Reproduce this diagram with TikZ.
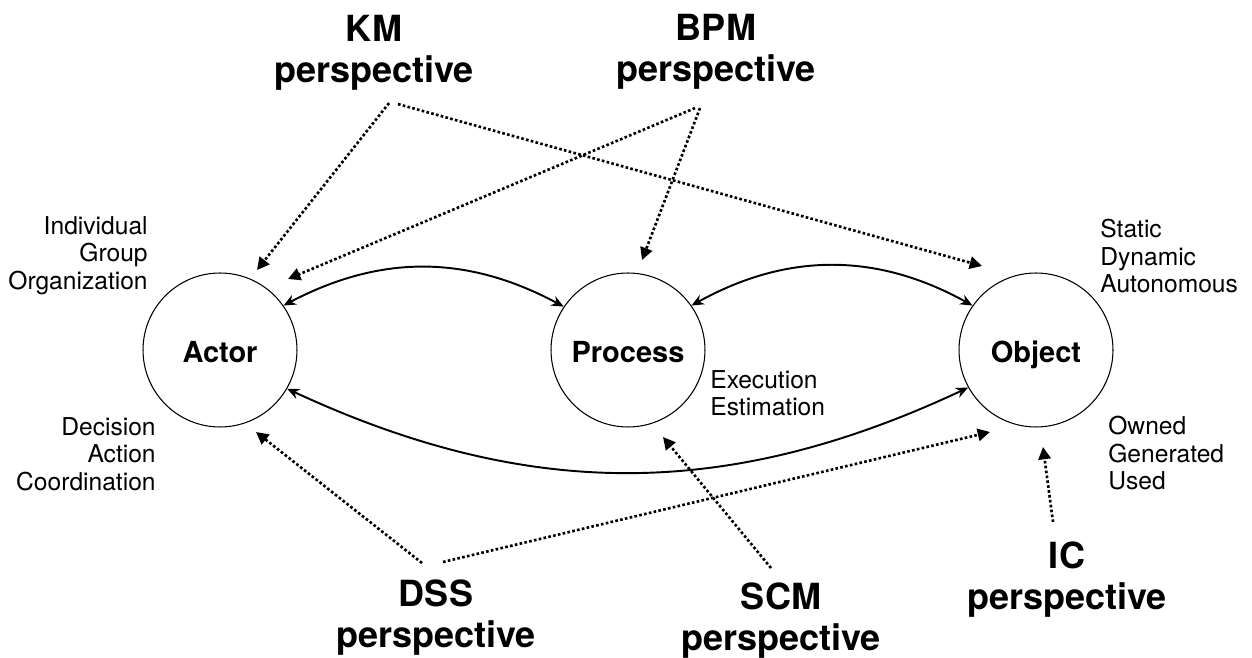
\documentclass[tikz,border=0pt]{standalone}
\usepackage{fontspec}
\setmainfont{TeX Gyre Heros}
\setsansfont{TeX Gyre Heros}
\usepackage{tikz}
\usetikzlibrary{arrows.meta, calc}

\tikzset{
  entity/.style={circle, draw, line width=0.6pt, minimum size=3.08cm, inner sep=0pt,
    text height=14.8pt, text depth=0pt, font=\fontsize{16.5}{19}\selectfont\bfseries},
  persp/.style={align=center, inner sep=0pt, font=\fontsize{20.5}{23.5}\selectfont\bfseries},
  facet/.style={inner sep=0pt, font=\fontsize{14}{15.6}\selectfont},
  link/.style={{Stealth[length=7pt,width=6pt]}-{Stealth[length=7pt,width=6pt]}, line width=1.1pt},
  view/.style={-{Triangle[length=7pt,width=7pt]}, line width=1.5pt, dash pattern=on 1.5pt off 1.3pt},
}

\begin{document}
\begin{tikzpicture}[x=0.02cm, y=-0.02cm]\sffamily
  \useasboundingbox (0,0) rectangle (1252,658);

  \node[entity] (actor) at (220,350) {Actor};
  \node[entity] (process) at (628,350) {Process};
  \node[entity] (object) at (1036,350) {Object};

  \node[facet, align=right, anchor=north east] (actorlevel) at (148,216) {Individual\\Group\\Organization};
  \node[facet, align=right, anchor=north east] (actorrole) at (156,417) {Decision\\Action\\Coordination};
  \node[facet, align=left, anchor=north west] (processrole) at (710,370) {Execution\\Estimation};
  \node[facet, align=left, anchor=north west] (objectkind) at (1100,219) {Static\\Dynamic\\Autonomous};
  \node[facet, align=left, anchor=north west] (objectrole) at (1108,416) {Owned\\Generated\\Used};

  \node[persp, anchor=north] (km) at (374,15) {KM\\perspective};
  \node[persp, anchor=north] (bpm) at (716,14) {BPM\\perspective};
  \node[persp, anchor=north] (dss) at (436,579) {DSS\\perspective};
  \node[persp, anchor=north] (scm) at (781,582) {SCM\\perspective};
  \node[persp, anchor=north] (ic) at (1067,541) {IC\\perspective};

  % solid links between the three entities
  \draw[link] (actor.35) to[bend left=28] (process.146);
  \draw[link] (process.35) to[bend left=29] (object.145);
  \draw[link] (actor.-30) to[bend right=25] (object.209);

  % dotted perspectives
  \draw[view] ($(km.south)+(15,12)$) -- ($(actor)+(37,-80)$);
  \draw[view] ($(km.south)+(24,13)$) -- ($(object)+(-54,-84)$);
  \draw[view] ($(bpm.south)+(-21,18)$) -- ($(actor)+(68,-71)$);
  \draw[view] ($(bpm.south)+(-16,18)$) -- ($(process)+(14,-90)$);
  \draw[view] ($(dss.north)+(-14,-16)$) -- ($(actor)+(36,82)$);
  \draw[view] ($(dss.north)+(7,-17)$) -- ($(object)+(-46,82)$);
  \draw[view] ($(scm.north)+(-10,-14)$) -- ($(process)+(35,87)$);
  \draw[view] ($(ic.north)+(-14,-19)$) -- ($(object)+(7,97)$);
\end{tikzpicture}
\end{document}
